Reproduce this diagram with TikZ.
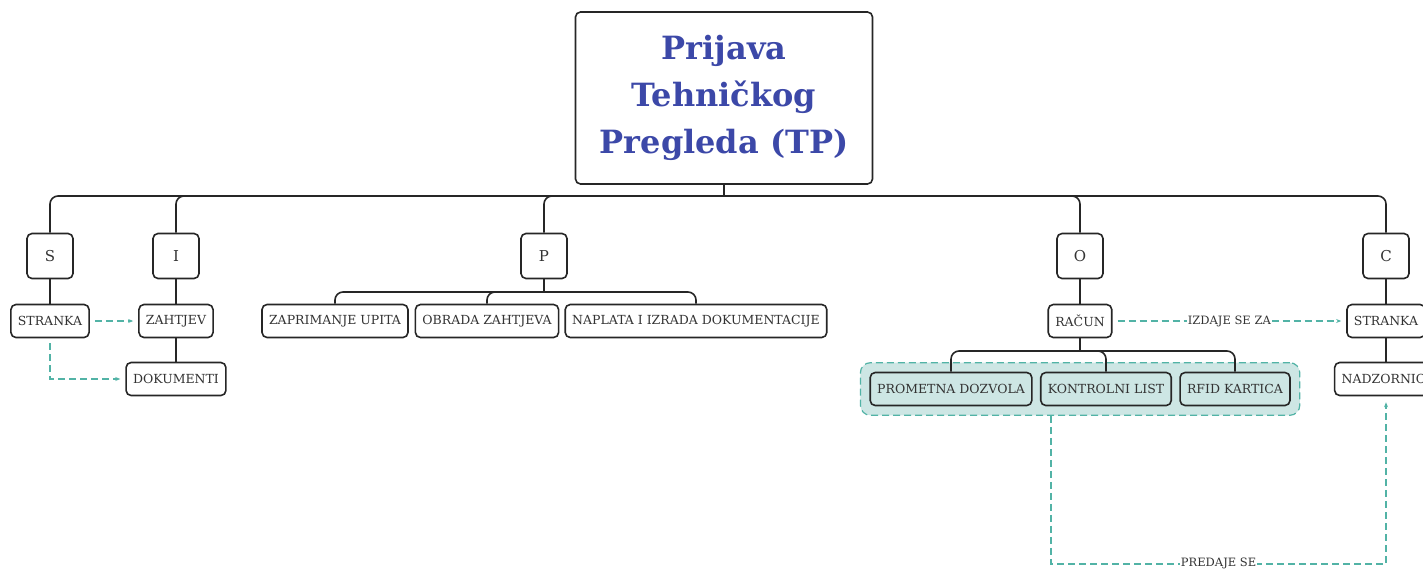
\documentclass[tikz,border=0pt]{standalone}
\usepackage{fontspec}
\setmainfont{DejaVu Serif}
\usetikzlibrary{arrows.meta,fit,backgrounds}
\definecolor{titleblue}{HTML}{3C48A8}
\definecolor{linkteal}{HTML}{52B3A6}
\definecolor{grpfill}{HTML}{CDE6E4}
\definecolor{textgray}{HTML}{333333}

\tikzset{
  box/.style={draw=black!85, line width=1.6pt, rounded corners=5pt, fill=white,
    text=textgray, font=\fontsize{12.5}{14}\selectfont, minimum height=33pt, inner xsep=7pt},
  letter/.style={box, minimum width=46pt, minimum height=45pt, font=\fontsize{15}{16}\selectfont},
  tree/.style={line width=1.6pt, black!85, rounded corners=8pt},
  link/.style={draw=linkteal, line width=1.2pt, dash pattern=on 7pt off 4pt,
    -{Stealth[length=5pt,width=4pt]}},
  linklabel/.style={fill=white, text=textgray, inner sep=1pt, font=\fontsize{11.5}{13}\selectfont},
}

\begin{document}
\begin{tikzpicture}[x=1pt,y=-1pt]
\useasboundingbox (0,0) rectangle (1423,568);
\clip (0,0) rectangle (1423,568);

% title
\node[box, minimum width=297pt, minimum height=172pt, align=center, text=titleblue,
  font=\fontsize{32}{47}\selectfont\bfseries] (title) at (724,98) {Prijava\\Tehničkog\\Pregleda (TP)};

% first level
\node[letter] (s) at (50,256) {S};
\node[letter] (i) at (176,256) {I};
\node[letter] (p) at (544,256) {P};
\node[letter] (o) at (1080,256) {O};
\node[letter] (c) at (1386,256) {C};

% second level
\node[box] (stranka) at (50,321) {STRANKA};
\node[box] (zahtjev) at (176,321) {ZAHTJEV};
\node[box] (dokumenti) at (176,379) {DOKUMENTI};
\node[box] (zaprimanje) at (335,321) {ZAPRIMANJE UPITA};
\node[box] (obrada) at (487,321) {OBRADA ZAHTJEVA};
\node[box] (naplata) at (696,321) {NAPLATA I IZRADA DOKUMENTACIJE};
\node[box] (racun) at (1080,321) {RAČUN};
\node[box] (strankac) at (1386,321) {STRANKA};
\node[box] (nadzornici) at (1386,379) {NADZORNICI};

% third level
\node[box, fill=grpfill] (prometna) at (951,389) {PROMETNA DOZVOLA};
\node[box, fill=grpfill] (kontrolni) at (1106,389) {KONTROLNI LIST};
\node[box, fill=grpfill] (rfid) at (1235,389) {RFID KARTICA};

\begin{scope}[on background layer]
  \node[draw=linkteal, fill=grpfill, line width=1.2pt, dash pattern=on 7pt off 4pt,
    rounded corners=10pt, inner xsep=9pt, inner ysep=9pt,
    fit=(prometna)(kontrolni)(rfid)] (grp) {};
\end{scope}

% tree lines
\coordinate (bus) at (724,196);
\draw[tree] (title.south) -- (bus);
\foreach \n in {s,i,p,o,c}
  \draw[tree] (bus) -| (\n.north);

\coordinate (pbus) at (544,292);
\draw[tree] (p.south) -- (pbus);
\foreach \n in {zaprimanje,obrada,naplata}
  \draw[tree] (pbus) -| (\n.north);

\draw[tree] (s.south) -- (stranka.north);
\draw[tree] (i.south) -- (zahtjev.north);
\draw[tree] (zahtjev.south) -- (dokumenti.north);
\draw[tree] (o.south) -- (racun.north);
\draw[tree] (c.south) -- (strankac.north);
\draw[tree] (strankac.south) -- (nadzornici.north);

\coordinate (obus) at (1080,351);
\draw[tree] (racun.south) -- (obus);
\foreach \n in {prometna,kontrolni,rfid}
  \draw[tree] (obus) -| (\n.north);

% dashed links
\draw[link, shorten <=5pt, shorten >=5pt] (stranka) -- (zahtjev);
\draw[link, shorten <=5pt, shorten >=5pt] (stranka.south) |- (dokumenti.west);
\draw[link, shorten <=5pt, shorten >=5pt] (racun) -- node[linklabel] {IZDAJE SE ZA} (strankac);
\draw[link, shorten >=6pt] ([xshift=-29pt]grp.south) -- ++(0,148)
  -| node[linklabel, pos=0.25] {PREDAJE SE} (nadzornici.south);
\end{tikzpicture}
\end{document}
